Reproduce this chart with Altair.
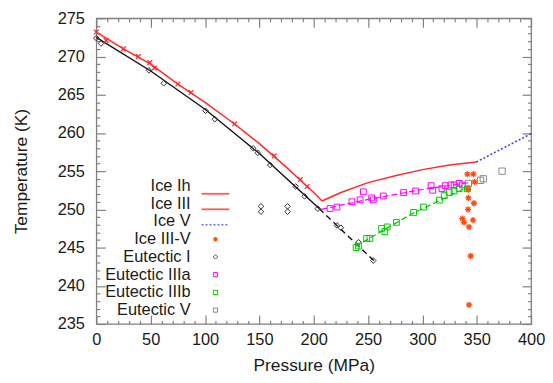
import altair as alt
import pandas as pd

# ---------------- data ----------------
ice_ih_p = [0, 25, 50, 75, 100, 125, 150, 175, 200, 207.7]
ice_ih_t = [273.2, 271.0, 269.0, 266.4, 264.0, 261.4, 258.6, 255.5, 252.2, 251.1]

ice_iii_p = [207.7, 225, 250, 275, 300, 325, 349.6]
ice_iii_t = [251.1, 252.2, 253.5, 254.4, 255.2, 255.8, 256.2]

ice_v_p = [349.6, 400]
ice_v_t = [256.2, 259.9]

ih_mark_p = [0, 9, 24.9, 38.6, 49.2, 53.5, 75, 87.2, 127.3, 163.7, 187.7, 194]
ih_mark_t = [273.2, 272.1, 271.0, 270.0, 269.2, 268.5, 266.4, 265.3, 261.2, 257.0, 253.9, 253.0]

eut1_line_p = [0, 50, 100, 150, 205]
eut1_line_t = [272.5, 268.1, 263.1, 257.3, 250.1]
eut1_dash_p = [205, 256]
eut1_dash_t = [250.1, 243.2]

eut1_p = [0, 4.3, 48.3, 62, 100.5, 109, 144.3, 148.5, 160, 183.4, 191.6, 203.8,
          221.4, 225, 241.2, 254.8, 151.5, 151.5, 175.9, 175.9]
eut1_t = [272.4, 271.7, 268.2, 266.5, 262.9, 261.8, 258.0, 257.4, 255.8, 253.0, 251.7, 250.1,
          247.9, 247.6, 245.7, 243.3, 250.4, 249.7, 250.4, 249.7]

iiia_line_p = [207, 250, 300, 342.9]
iiia_line_t = [250.0, 251.3, 252.6, 253.5]
iiia_p = [215, 221.4, 235.1, 242.7, 245.7, 253.3, 254.8, 264, 282.7, 293.7, 308, 309.5,
          318, 321, 326.2, 329.2, 333.8, 336.8]
iiia_t = [250.1, 250.3, 251.0, 251.25, 252.3, 251.5, 251.25, 251.75, 252.2, 252.4, 253.1, 252.5,
          252.7, 253.1, 253.2, 253.2, 253.4, 253.2]

iiib_line_p = [238, 290, 342.9]
iiib_line_t = [245.1, 249.4, 253.0]
iiib_p = [239, 241.2, 248.7, 251.7, 262.4, 265.4, 267.6, 276.1, 291.9, 301, 315.6, 320.1,
          324.7, 329.2, 333.8, 341.4]
iiib_t = [245.0, 245.2, 246.2, 246.2, 247.5, 247.1, 247.7, 248.3, 249.6, 250.3, 251.2, 251.8,
          252.2, 252.4, 252.7, 252.7]

eutv_p = [342.3, 353.5, 356, 373.3]
eutv_t = [253.4, 253.8, 254.0, 255.0]

iiiv_p = [341.4, 346.9, 348, 342, 342.3, 347.4, 342, 336.8, 346.5, 338.3, 342.9, 344.4, 342.9]
iiiv_t = [254.6, 254.6, 253.6, 252.6, 251.5, 250.8, 250.0, 248.8, 248.6, 248.3, 247.7, 243.9, 237.5]

legend_labels = ["Ice Ih", "Ice III", "Ice V", "Ice III-V", "Eutectic I",
                 "Eutectic IIIa", "Eutectic IIIb", "Eutectic V"]

x_major = [0, 50, 100, 150, 200, 250, 300, 350, 400]
y_major = [235, 240, 245, 250, 255, 260, 265, 270, 275]
x_minor = [v for v in range(0, 401, 10) if v % 50 != 0]
y_minor = [v for v in range(235, 276, 1) if v % 5 != 0]

# ---------------- style ----------------
W, H = 438, 308
FONT = "Liberation Sans"
TXT = "#1a1a1a"
FRAME = "#808080"
RED = "#ff2a2a"
BLUE = "#3a3aff"
ORANGE = "#ff4d10"
MAGENTA = "#ff00ff"
GREEN = "#00cc00"
GRAY = "#8a8a8a"
BLACK = "#111111"

STAR = "M-1,0L1,0M0,-1L0,1M-0.7,-0.7L0.7,0.7M-0.7,0.7L0.7,-0.7"
XMARK = "M-1,-1L1,1M-1,1L1,-1"

XS = alt.Scale(domain=[0, 400], nice=False, zero=False)
YS = alt.Scale(domain=[235, 275], nice=False, zero=False)


def xy(p, t):
    return pd.DataFrame({"P": p, "T": t})


def enc(ch):
    return ch.encode(x=alt.X("P:Q", scale=XS, axis=None),
                     y=alt.Y("T:Q", scale=YS, axis=None))


def line(p, t, color, width=1.5, dash=None):
    kw = dict(color=color, strokeWidth=width)
    if dash:
        kw["strokeDash"] = dash
    return enc(alt.Chart(xy(p, t)).mark_line(**kw))


def points(p, t, shape, color, size, width=1.0):
    return enc(alt.Chart(xy(p, t)).mark_point(shape=shape, filled=False, color=color,
                                              size=size, strokeWidth=width, opacity=1))


anchor = xy([x_major[0]], [y_major[0]])


def axis_layer(xaxis, yaxis):
    return alt.Chart(anchor).mark_point(opacity=0).encode(
        x=alt.X("P:Q", scale=XS, axis=xaxis),
        y=alt.Y("T:Q", scale=YS, axis=yaxis))


common_lbl = dict(grid=False, domain=False, ticks=False, tickSize=0,
                  labelFont=FONT, labelFontSize=16.5, labelColor=TXT,
                  titleFont=FONT, titleFontSize=17.5, titleFontWeight="normal",
                  titleColor=TXT, labelOverlap=False, labelFlush=False)

y_lbl = alt.Axis(orient="left", values=y_major, title="Temperature (K)",
                 labelPadding=12, titlePadding=27, **common_lbl)
x_lbl = alt.Axis(orient="bottom", values=x_major, title="Pressure (MPa)",
                 labelPadding=8, titlePadding=8, **common_lbl)

tick_common = dict(labels=True, labelExpr="''", domain=False, grid=False,
                   tickColor=FRAME, tickWidth=1.2, title=None)


def tick_axes(orient, offset, major, minor):
    return [alt.Axis(orient=orient, offset=offset, values=major, tickSize=9, **tick_common),
            alt.Axis(orient=orient, offset=offset, values=minor, tickSize=3.5, **tick_common)]


axes = [axis_layer(None, y_lbl), axis_layer(x_lbl, None)]
for ax in tick_axes("right", -W, y_major, y_minor) + tick_axes("left", -W, y_major, y_minor):
    axes.append(axis_layer(None, ax))
for ax in tick_axes("top", -H, x_major, x_minor) + tick_axes("bottom", -H, x_major, x_minor):
    axes.append(axis_layer(ax, None))

data_layers = [
    line(ice_ih_p, ice_ih_t, RED, 1.5),
    line(ice_iii_p, ice_iii_t, RED, 1.5),
    line(ice_v_p, ice_v_t, BLUE, 1.5, [2, 2]),
    line(eut1_line_p, eut1_line_t, BLACK, 1.4),
    line(eut1_dash_p, eut1_dash_t, BLACK, 1.4, [6, 4]),
    line(iiia_line_p, iiia_line_t, MAGENTA, 1.2, [6, 3]),
    line(iiib_line_p, iiib_line_t, GREEN, 1.2, [6, 3]),
    points(ih_mark_p, ih_mark_t, XMARK, RED, 22, 1.3),
    points(eut1_p, eut1_t, "diamond", "#333333", 32, 1.0),
    points(iiia_p, iiia_t, "square", MAGENTA, 34, 1.0),
    points(iiib_p, iiib_t, "square", GREEN, 34, 1.0),
    points(eutv_p, eutv_t, "square", GRAY, 40, 1.0),
    points(iiiv_p, iiiv_t, STAR, ORANGE, 40, 1.3),
]

# ---------------- legend (inside the plot, labels left of symbols) ----------------
legend_df = pd.DataFrame({"label": legend_labels})
LY = alt.Scale(domain=legend_labels, range=[169, 294], padding=0)
ly = alt.Y("label:N", scale=LY, axis=None)


def leg_base(names):
    return alt.Chart(legend_df).transform_filter(
        alt.FieldOneOfPredicate(field="label", oneOf=names))


legend_layers = [
    alt.Chart(legend_df).mark_text(align="right", baseline="middle", font=FONT,
                                   fontSize=16.5, color=TXT).encode(
        x=alt.value(95), y=ly, text="label:N"),
    leg_base(legend_labels[0:2]).mark_rule(color="#ff5a5a", strokeWidth=1.8).encode(
        x=alt.value(106), x2=alt.value(134), y=ly),
    leg_base([legend_labels[2]]).mark_rule(color="#6a6aff", strokeWidth=1.5,
                                           strokeDash=[2, 2]).encode(
        x=alt.value(106), x2=alt.value(134), y=ly),
    leg_base([legend_labels[3]]).mark_point(shape=STAR, filled=False, color=ORANGE,
                                            size=22, strokeWidth=1.3, opacity=1).encode(
        x=alt.value(120), y=ly),
    leg_base([legend_labels[4]]).mark_point(shape="diamond", filled=False, color="#555555",
                                            size=20, strokeWidth=1.0, opacity=1).encode(
        x=alt.value(120), y=ly),
    leg_base([legend_labels[5]]).mark_point(shape="square", filled=False, color=MAGENTA,
                                            size=18, strokeWidth=1.0, opacity=1).encode(
        x=alt.value(120), y=ly),
    leg_base([legend_labels[6]]).mark_point(shape="square", filled=False, color=GREEN,
                                            size=18, strokeWidth=1.0, opacity=1).encode(
        x=alt.value(120), y=ly),
    leg_base([legend_labels[7]]).mark_point(shape="square", filled=False, color=GRAY,
                                            size=18, strokeWidth=1.0, opacity=1).encode(
        x=alt.value(120), y=ly),
]

chart = alt.layer(*(axes + data_layers + legend_layers)).resolve_scale(
    x="independent", y="independent"
).properties(
    width=W, height=H,
    autosize=alt.AutoSizeParams(type="none"),
    padding={"left": 89, "top": 9, "right": 14, "bottom": 50},
    background="white",
).configure_view(stroke=FRAME, strokeWidth=1.3)

chart.save("out.html", embed_options={"renderer": "svg", "actions": False})
